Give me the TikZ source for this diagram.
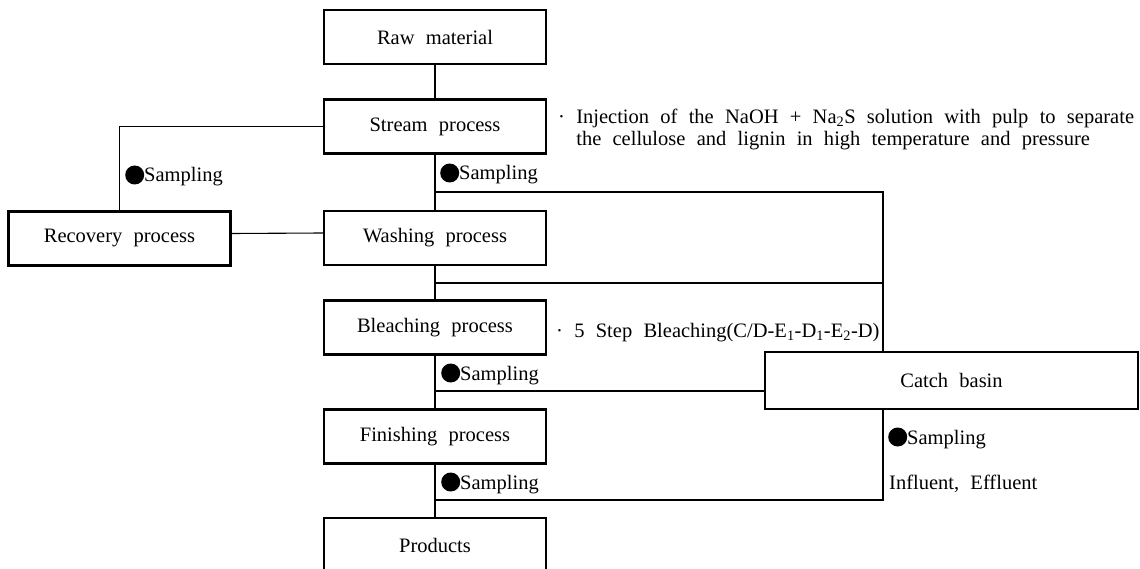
\documentclass[tikz,border=0pt]{standalone}
\usepackage{fontspec}
\setmainfont{Liberation Serif}[WordSpace=2.2]
\newcommand{\sampdot}{\tikz[x=1pt,y=1pt,baseline={(0,-7pt)}]\fill (0,0) circle (9.5pt);}
\begin{document}
\begin{tikzpicture}[x=1pt,y=-1pt,font=\fontsize{20.5}{22}\selectfont,
  proc/.style={draw,line width=2.2pt,minimum width=222pt,minimum height=54pt,inner sep=0pt},
  note/.style={inner sep=0pt,align=left}]

\useasboundingbox (0,0) rectangle (1140,569);

\node[proc] (raw)       at (435,37)    {Raw material};
\node[proc] (stream)    at (435,126.5) {Stream process};
\node[proc] (washing)   at (435,238)   {Washing process};
\node[proc] (recovery)  at (119.5,238.5) {Recovery process};
\node[proc] (bleaching) at (435,327.5) {Bleaching process};
\node[proc] (finishing) at (435,436.5) {Finishing process};
\node[proc] (products)  at (435,545)   {Products};
\node[proc,minimum width=373pt,minimum height=57pt] (catch) at (951.5,380.5) {Catch basin};

\node[note,anchor=west] (inject) at (558,129)
  {· Injection of the NaOH + Na\textsubscript{2}S solution with pulp to separate\\
   \phantom{·} the cellulose and lignin in high temperature and pressure};
\node[note,anchor=base west] (steps) at (556,337)
  {· 5 Step Bleaching(C/D-E\textsubscript{1}-D\textsubscript{1}-E\textsubscript{2}-D)};

\foreach \n/\x/\y in {s1/125/182, s2/440/180, s3/441/380, s4/441/489, s5/888/444}
  \node[note,anchor=base west] (\n) at (\x,\y) {\sampdot Sampling};
\node[note,anchor=base west] (flow) at (889,489) {Influent, Effluent};

\coordinate (a1) at (435,192);
\coordinate (b1) at (883,192);
\coordinate (a2) at (435,283);
\coordinate (b2) at (883,283);
\coordinate (a3) at (435,391);
\coordinate (a4) at (435,500);
\coordinate (b4) at (883,500);

\begin{scope}[line width=1.1pt]
\foreach \a/\b in {raw/stream, stream/washing, washing/bleaching, bleaching/finishing, finishing/products}
  \draw (\a) -- (\b);
\draw (stream.west) -| (recovery.north);
\draw ([yshift=5pt]recovery.east) -- ([yshift=5pt]washing.west);
\draw (a1) -- (b1) -- (b1 |- catch.north);
\draw (a2) -- (b2);
\draw (a3) -- (a3 -| catch.west);
\draw (catch.south -| b4) -- (b4) -- (a4);
\end{scope}

\end{tikzpicture}
\end{document}
